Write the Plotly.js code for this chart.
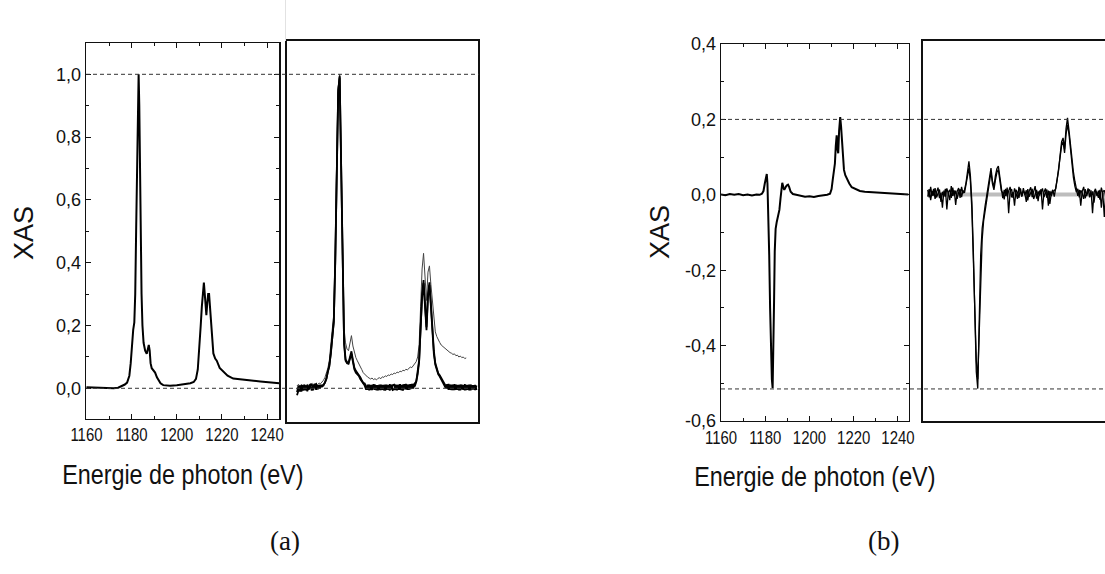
<!DOCTYPE html>
<html>
<head>
<meta charset="utf-8">
<script src="https://cdn.plot.ly/plotly-3.0.1.min.js"></script>
<style>
html,body{margin:0;padding:0;background:#fff;overflow:hidden;}
#chart{width:1125px;height:574px;}
</style>
</head>
<body>
<div id="chart"></div>
<script>
// ---------- data: panel (a), left (normalised XAS) ----------
var energyAL = [1160,1163,1166,1169,1172,1174,1175.5,1177,1178,1179,1179.6,1180.2,1180.7,1181.2,1181.6,1182.0,1182.4,1182.8,1183.1,1183.4,1183.7,1184.0,1184.4,1184.8,1185.3,1186.0,1186.7,1187.2,1187.6,1188.0,1188.4,1188.9,1189.6,1190.4,1191.2,1191.8,1192.8,1194,1197,1200,1203,1206,1207.5,1208.5,1209.3,1210,1210.6,1211.1,1211.6,1212.0,1212.4,1212.8,1213.1,1213.5,1213.9,1214.3,1214.7,1215.2,1215.7,1216.2,1217,1217.7,1219,1220.6,1222.5,1225,1228,1231,1234,1237,1240,1243,1245.4];
var xasAL    = [0.003,0.002,0.001,0.0,0.0,0.002,0.006,0.012,0.018,0.04,0.08,0.15,0.186,0.21,0.3,0.5,0.75,0.95,1.0,0.9,0.7,0.5,0.3,0.2,0.145,0.12,0.11,0.125,0.138,0.12,0.08,0.064,0.058,0.05,0.035,0.026,0.016,0.01,0.008,0.01,0.012,0.016,0.02,0.03,0.06,0.12,0.2,0.26,0.32,0.337,0.3,0.25,0.233,0.27,0.3,0.3,0.26,0.217,0.15,0.111,0.095,0.088,0.065,0.052,0.04,0.031,0.028,0.026,0.024,0.022,0.02,0.018,0.016];

// ---------- data: panel (b), left (dichroism) ----------
var energyBL = [1160,1162,1164,1166,1168,1170,1172,1174,1176,1177.5,1178.5,1179.2,1179.8,1180.3,1180.7,1181.0,1181.4,1181.8,1182.2,1182.6,1183.0,1183.35,1183.7,1184.0,1184.3,1184.7,1185.2,1185.8,1186.4,1186.9,1187.3,1187.7,1188.2,1188.6,1189.2,1189.7,1190.3,1190.8,1191.5,1192.5,1194,1196,1198,1200,1202,1204,1206,1208,1209.3,1210,1210.5,1211.0,1211.5,1211.9,1212.3,1212.7,1213.0,1213.4,1213.9,1214.3,1214.7,1215.1,1215.6,1216.2,1216.8,1218,1219.1,1221,1222.8,1225,1228.9,1232,1235,1237.9,1241,1244.7];
var xmcdBL   = [0.001,-0.001,0.002,0.0,0.002,-0.001,0.001,-0.002,0.001,0.0,0.003,0.01,0.03,0.05,0.055,0.03,-0.05,-0.16,-0.3,-0.42,-0.49,-0.513,-0.42,-0.28,-0.15,-0.09,-0.072,-0.055,-0.04,-0.01,0.02,0.032,0.02,0.013,0.02,0.025,0.027,0.021,0.008,0.002,0.0,-0.003,-0.005,-0.004,-0.006,-0.003,-0.002,0.0,0.003,0.015,0.039,0.06,0.083,0.13,0.158,0.12,0.11,0.17,0.206,0.18,0.145,0.1,0.066,0.052,0.044,0.03,0.02,0.014,0.01,0.008,0.007,0.005,0.005,0.004,0.002,0.001];

// ---------- data: right-hand insets (shared energy grid) ----------
var energyR = [1166.5,1167,1167.5,1168,1168.5,1169,1169.5,1170,1170.5,1171,
  1171.5,1172,1172.5,1173,1173.5,1174,1174.5,1175,1175.5,1176,
  1176.5,1177,1177.5,1178,1178.5,1179,1179.5,1180,1180.5,1181,
  1181.5,1182,1182.5,1183,1183.5,1184,1184.5,1185,1185.5,1186,
  1186.5,1187,1187.5,1188,1188.5,1189,1189.5,1190,1190.5,1191,
  1191.5,1192,1192.5,1193,1193.5,1194,1194.5,1195,1195.5,1196,
  1196.5,1197,1197.5,1198,1198.5,1199,1199.5,1200,1200.5,1201,
  1201.5,1202,1202.5,1203,1203.5,1204,1204.5,1205,1205.5,1206,
  1206.5,1207,1207.5,1208,1208.5,1209,1209.5,1210,1210.5,1211,
  1211.5,1212,1212.5,1213,1213.5,1214,1214.5,1215,1215.5,1216,
  1216.5,1217,1217.5,1218,1218.5,1219,1219.5,1220,1220.5,1221,
  1221.5,1222,1222.5,1223,1223.5,1224,1224.5,1225,1225.5,1226,
  1226.5,1227,1227.5,1228,1228.5,1229,1229.5];

var xasAR1 = [null,null,null,null,-0.022,-0.008,0.008,-0.01,0.01,-0.006,
  0.009,-0.009,0.007,0.011,-0.007,0.008,0.012,-0.004,0.01,0.0,
  0.009,0.006,0.012,0.018,0.032,0.05,0.075,0.11,0.17,0.215,
  0.4,0.7,0.94,0.995,0.72,0.34,0.15,0.092,0.084,0.082,
  0.1,0.118,0.09,0.066,0.056,0.05,0.044,0.036,0.026,0.018,
  0.016,0.004,-0.004,0.012,-0.005,0.011,-0.003,0.012,-0.006,0.01,
  -0.005,0.012,-0.004,0.011,-0.007,0.012,-0.004,0.013,-0.003,0.01,
  0.012,-0.005,0.011,-0.004,0.013,-0.006,0.012,-0.003,0.014,-0.004,
  0.012,-0.003,0.014,0.0,0.016,0.022,0.045,0.085,0.2,0.3,
  0.345,0.28,0.195,0.3,0.338,0.27,0.19,0.12,0.08,0.06,
  0.048,0.042,0.033,0.024,0.017,0.01,0.0,0.014,-0.004,0.012,
  -0.005,0.013,-0.004,0.011,-0.006,0.012,-0.003,0.01,-0.006,0.011,
  -0.004,0.012,-0.006,0.01,-0.003,0.011,-0.005];

var xasAR2 = [null,null,null,null,-0.012,0.009,-0.01,0.011,-0.007,0.01,
  -0.006,0.011,-0.004,0.009,0.013,-0.006,0.01,0.014,-0.003,0.011,
  0.004,0.01,0.009,0.02,0.03,0.054,0.07,0.115,0.175,0.21,
  0.41,0.72,0.95,0.99,0.7,0.33,0.14,0.088,0.08,0.078,
  0.092,0.11,0.085,0.06,0.05,0.046,0.04,0.03,0.022,0.015,
  0.009,-0.004,0.012,-0.006,0.011,-0.005,0.013,-0.004,0.01,-0.006,
  0.012,-0.005,0.011,-0.006,0.012,-0.004,0.01,-0.007,0.012,-0.005,
  -0.003,0.012,-0.006,0.012,-0.004,0.011,-0.007,0.013,-0.003,0.012,
  -0.004,0.013,0.0,0.014,0.006,0.02,0.05,0.09,0.19,0.29,
  0.335,0.27,0.185,0.29,0.33,0.26,0.18,0.11,0.075,0.055,
  0.045,0.038,0.03,0.02,0.012,0.002,0.013,-0.004,0.012,-0.005,
  0.012,-0.005,0.012,-0.004,0.011,-0.006,0.012,-0.004,0.013,-0.005,
  0.011,-0.006,0.012,-0.003,0.01,-0.005,0.009];

var xasAR3 = [null,null,null,null,0.008,0.013,0.006,0.012,0.009,0.014,
  0.008,0.013,0.01,0.015,0.009,0.014,0.011,0.016,0.012,0.017,
  0.015,0.02,0.026,0.035,0.048,0.065,0.09,0.13,0.19,0.235,
  0.43,0.74,0.96,1.0,0.74,0.37,0.19,0.145,0.125,0.12,
  0.15,0.168,0.135,0.112,0.098,0.088,0.08,0.068,0.06,0.05,
  0.045,0.039,0.036,0.033,0.03,0.033,0.028,0.031,0.027,0.032,
  0.034,0.031,0.037,0.035,0.04,0.038,0.043,0.041,0.046,0.044,
  0.049,0.047,0.052,0.05,0.055,0.053,0.058,0.056,0.061,0.059,
  0.064,0.068,0.066,0.072,0.078,0.085,0.1,0.14,0.26,0.38,
  0.43,0.36,0.28,0.37,0.39,0.33,0.27,0.22,0.18,0.165,
  0.152,0.146,0.138,0.134,0.128,0.125,0.12,0.118,0.114,0.112,
  0.108,0.11,0.104,0.106,0.1,0.103,0.098,0.1,0.095,0.097,
  null,null,null,null,null,null,null];

var xmcdBR1 = [0.012,-0.008,0.02,-0.004,0.015,-0.012,0.006,0.018,-0.01,0.004,
  -0.035,0.01,-0.006,0.016,0.002,-0.015,0.022,-0.004,0.011,-0.028,
  0.008,0.017,-0.009,0.02,0.003,0.012,0.03,0.062,0.088,0.05,
  -0.02,-0.15,-0.34,-0.47,-0.515,-0.33,-0.16,-0.09,-0.05,-0.03,
  -0.005,0.025,0.055,0.07,0.035,0.02,0.05,0.068,0.075,0.045,
  0.015,-0.01,0.012,-0.004,0.018,-0.05,0.008,0.014,-0.009,0.016,
  0.003,-0.012,0.02,0.007,-0.006,0.017,-0.002,0.011,-0.016,0.009,
  0.019,-0.007,0.005,0.022,-0.011,0.008,-0.003,0.014,-0.04,0.006,
  0.016,-0.009,0.01,-0.025,0.004,0.012,-0.006,0.02,0.035,0.065,
  0.105,0.14,0.15,0.12,0.175,0.203,0.17,0.13,0.11,0.06,
  0.035,0.018,-0.004,0.012,-0.03,0.008,0.02,-0.01,0.005,0.016,
  -0.008,0.011,-0.05,0.006,0.015,-0.004,0.01,-0.014,0.018,0.002,
  -0.06,0.009,-0.005,0.013,0.0,-0.02,0.008];

var xmcdBR2 = [-0.006,0.014,-0.015,0.009,-0.003,0.017,-0.008,0.002,0.013,-0.02,
  0.007,-0.005,0.015,-0.04,0.006,0.012,-0.009,0.018,-0.003,0.01,
  -0.012,0.005,0.014,-0.007,0.01,0.004,0.024,0.05,0.07,0.035,
  -0.04,-0.17,-0.33,-0.44,-0.49,-0.36,-0.2,-0.12,-0.07,-0.045,
  -0.02,0.01,0.04,0.06,0.028,0.012,0.038,0.058,0.066,0.036,
  0.01,0.004,-0.013,0.015,-0.005,0.009,0.02,-0.008,0.006,-0.03,
  0.012,0.005,-0.009,0.016,-0.004,0.01,0.002,-0.02,0.014,-0.006,
  0.008,0.015,-0.012,0.003,0.012,-0.018,0.01,0.004,0.016,-0.007,
  0.006,0.013,-0.03,0.009,-0.004,0.008,0.01,0.015,0.04,0.07,
  0.1,0.13,0.14,0.11,0.16,0.185,0.16,0.12,0.09,0.045,
  0.022,0.006,0.015,-0.008,0.011,0.003,-0.012,0.014,-0.004,0.009,
  0.013,-0.006,0.008,-0.022,0.01,0.004,-0.009,0.012,-0.035,0.007,
  0.011,-0.004,0.016,-0.045,0.006,0.01,-0.008];

var zeroBandE = [1166.5,1229.5];
var zeroBandY = [0,0];

// reference (dashed) levels
var refLevelsA = [1.0, 0.0];
var refLevelsB = [0.2, -0.515];

// ticks
var xTickVals = [1160,1180,1200,1220,1240];
var xTickText = ['1160','1180','1200','1220','1240'];
var xMinorVals = [1170,1190,1210,1230];
var yTickValsA = [0,0.2,0.4,0.6,0.8,1.0];
var yTickTextA = ['0,0','0,2','0,4','0,6','0,8','1,0'];
var yMinorValsA = [0.1,0.3,0.5,0.7,0.9];
var yTickValsB = [-0.6,-0.4,-0.2,0,0.2,0.4];
var yTickTextB = ['-0,6','-0,4','-0,2','0,0','0,2','0,4'];
var yMinorValsB = [-0.5,-0.3,-0.1,0.1,0.3];

// ---------- layout helpers (pixel geometry) ----------
var W = 1125, H = 574;
function dx(a,b){return [a/W, b/W];}
function dy(top,bottom){return [1-bottom/H, 1-top/H];}
var SANS = 'Liberation Sans, Arial, sans-serif';
var SERIF = 'Liberation Serif, DejaVu Serif, serif';

function mainX(domain, range, anchor){
  return {domain: domain, range: range, anchor: anchor, showgrid:false, zeroline:false,
    showline:true, mirror:'ticks', linecolor:'#111', linewidth:1.3,
    ticks:'inside', ticklen:5, tickwidth:1, tickcolor:'#111',
    tickmode:'array', tickvals:xTickVals, ticktext:xTickText,
    tickfont:{family:SANS, size:18, color:'#111'},
    minor:{ticks:'inside', ticklen:3, tickvals:xMinorVals, tickcolor:'#111'}};
}
function mainY(domain, range, anchor, tv, tt, mv){
  return {domain: domain, range: range, anchor: anchor, showgrid:false, zeroline:false,
    showline:true, mirror:'ticks', linecolor:'#111', linewidth:1.3,
    ticks:'inside', ticklen:5, tickwidth:1, tickcolor:'#111',
    tickmode:'array', tickvals:tv, ticktext:tt,
    tickfont:{family:SANS, size:18, color:'#111'},
    minor:{ticks:'inside', ticklen:3, tickvals:mv, tickcolor:'#111'}};
}
function insetAxis(domain, range, anchor){
  return {domain: domain, range: range, anchor: anchor, showgrid:false, zeroline:false,
    showline:true, mirror:true, linecolor:'#111', linewidth:2,
    ticks:'', showticklabels:false};
}

var traces = [
  {x:energyAL, y:xasAL, xaxis:'x', yaxis:'y', mode:'lines', line:{color:'#000', width:2}},
  {x:energyR, y:xasAR3, xaxis:'x2', yaxis:'y2', mode:'lines', line:{color:'#444', width:1}},
  {x:energyR, y:xasAR2, xaxis:'x2', yaxis:'y2', mode:'lines', line:{color:'#000', width:1.8}},
  {x:energyR, y:xasAR1, xaxis:'x2', yaxis:'y2', mode:'lines', line:{color:'#000', width:1.8}},
  {x:energyBL, y:xmcdBL, xaxis:'x3', yaxis:'y3', mode:'lines', line:{color:'#000', width:2}},
  {x:zeroBandE, y:zeroBandY, xaxis:'x4', yaxis:'y4', mode:'lines', line:{color:'#bdbdbd', width:4}},
  {x:energyR, y:xmcdBR2, xaxis:'x4', yaxis:'y4', mode:'lines', line:{color:'#000', width:1.3}},
  {x:energyR, y:xmcdBR1, xaxis:'x4', yaxis:'y4', mode:'lines', line:{color:'#000', width:1.3}}
];

var shapes = [];
refLevelsA.forEach(function(v){
  shapes.push({type:'line', xref:'paper', yref:'y', x0:86/W, x1:479/W, y0:v, y1:v,
    line:{color:'#333', width:1, dash:'4px,3px'}});
});
refLevelsB.forEach(function(v){
  shapes.push({type:'line', xref:'paper', yref:'y3', x0:721/W, x1:1, y0:v, y1:v,
    line:{color:'#333', width:1, dash:'4px,3px'}});
});
shapes.push({type:'line', xref:'paper', yref:'paper', x0:285.5/W, x1:285.5/W, y0:1-41/H, y1:1,
  line:{color:'#e2e2e2', width:1}});

var annotations = [
  {text:'XAS', xref:'paper', yref:'paper', x:24/W, y:1-233/H, showarrow:false, textangle:-90,
   xanchor:'center', yanchor:'middle', font:{family:SANS, size:27, color:'#111'}},
  {text:'XAS', xref:'paper', yref:'paper', x:660/W, y:1-232/H, showarrow:false, textangle:-90,
   xanchor:'center', yanchor:'middle', font:{family:SANS, size:27, color:'#111'}},
  {text:'Energie de photon (eV)', xref:'paper', yref:'paper', x:182.5/W, y:1-474/H, showarrow:false,
   xanchor:'center', yanchor:'middle', font:{family:SANS, size:28, color:'#111'}},
  {text:'Energie de photon (eV)', xref:'paper', yref:'paper', x:815/W, y:1-476/H, showarrow:false,
   xanchor:'center', yanchor:'middle', font:{family:SANS, size:28, color:'#111'}},
  {text:'(a)', xref:'paper', yref:'paper', x:285/W, y:1-541/H, showarrow:false,
   xanchor:'center', yanchor:'middle', font:{family:SERIF, size:27, color:'#111'}},
  {text:'(b)', xref:'paper', yref:'paper', x:883/W, y:1-541/H, showarrow:false,
   xanchor:'center', yanchor:'middle', font:{family:SERIF, size:27, color:'#111'}}
];

var layout = {
  width: W, height: H,
  margin:{l:0, r:0, t:0, b:0},
  paper_bgcolor:'#fff', plot_bgcolor:'#fff',
  showlegend:false,
  font:{family:SANS, color:'#111'},
  xaxis:  mainX(dx(86,279.3), [1159.8,1245.4], 'y'),
  yaxis:  mainY(dy(43,418.5), [-0.0962,1.0997], 'x', yTickValsA, yTickTextA, yMinorValsA),
  xaxis2: insetAxis(dx(286.7,478), [1165,1230], 'y2'),
  yaxis2: insetAxis(dy(41,421.7), [-0.106,1.106], 'x2'),
  xaxis3: mainX(dx(721,909), [1160,1245], 'y3'),
  yaxis3: mainY(dy(44,421), [-0.6,0.4], 'x3', yTickValsB, yTickTextB, yMinorValsB),
  xaxis4: insetAxis(dx(923.3,1114.6), [1165,1230], 'y4'),
  yaxis4: insetAxis(dy(41,421), [-0.601,0.407], 'x4'),
  shapes: shapes,
  annotations: annotations
};

// the original uses a condensed face for the x-axis text; emulate it by a horizontal squeeze
function condense(el, f){
  el.style.transformBox = 'fill-box';
  el.style.transformOrigin = 'center';
  el.style.transform = 'scaleX(' + f + ')';
}
Plotly.newPlot('chart', traces, layout, {displayModeBar:false, staticPlot:true}).then(function(){
  document.querySelectorAll('g.annotation').forEach(function(g){
    if (g.textContent.indexOf('Energie') === 0) condense(g, 0.834);
  });
  document.querySelectorAll('g.xtick, g.x3tick').forEach(function(g){ condense(g, 0.83); });
});
</script>
</body>
</html>
